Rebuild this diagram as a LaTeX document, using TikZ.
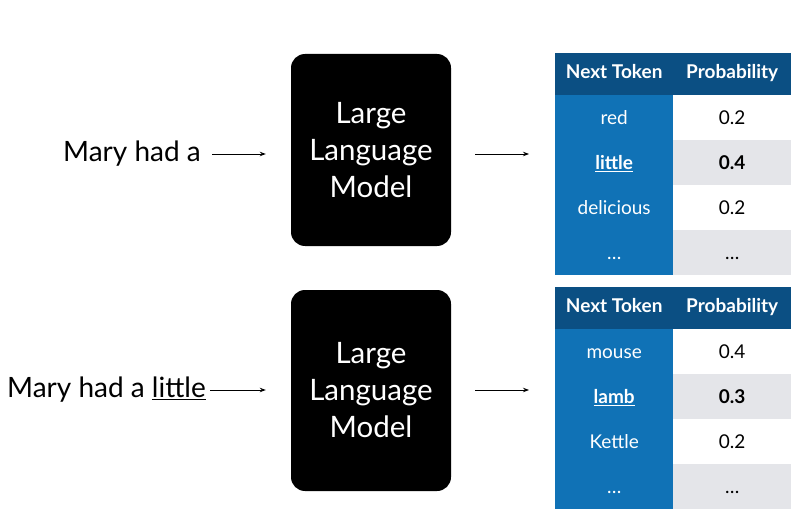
\documentclass[tikz,border=0pt]{standalone}
\usepackage{fontspec}
\setmainfont{Lato}
\usetikzlibrary{positioning,arrows.meta}

\begin{document}
\begin{tikzpicture}[x=1pt,y=-1pt]
\definecolor{tdark}{HTML}{0B4F83}
\definecolor{tblue}{HTML}{1072B6}
\definecolor{tgray}{HTML}{E4E5E9}
\tikzset{
  prompt/.style={font=\fontsize{28}{32}\selectfont, inner sep=0pt},
  llm/.style={fill=black, rounded corners=14pt, minimum width=160pt, text=white,
    align=center, font=\fontsize{29.5}{37}\selectfont},
  head/.style={fill=tdark, text=white, font=\bfseries\fontsize{19}{21}\selectfont,
    minimum width=118pt, minimum height=42pt, inner sep=0pt, anchor=north west,
    text height=13pt, text depth=4pt},
  cell/.style={font=\fontsize{19}{21}\selectfont, minimum width=118pt,
    minimum height=45pt, inner sep=0pt, anchor=north west,
    text height=16pt, text depth=2pt},
  arr/.style={-{Stealth[length=6pt,width=4.5pt]}, line width=0.9pt}
}
\useasboundingbox[fill=white] (0,0) rectangle (804,524);

% prompts
\node[prompt, anchor=east] (p1) at (201,154) {Mary had a};
\node[prompt, anchor=east] (p2) at (206,390) {Mary had a \underline{little}};

% the two models
\node[llm, minimum height=192pt] (llm1) at (371,150) {Large\\Language\\Model};
\node[llm, minimum height=201pt] (llm2) at (371,390.5) {Large\\Language\\Model};

% tables
\foreach \t/\top in {1/53, 2/287}
  {
  \node[head] (t\t-h1) at (555,\top) {Next Token};
  \node[head] (t\t-h2) at (673,\top) {Probability};
  }
\foreach \r/\tok/\p/\c in {1/red/0.2/white, 2/\underline{\textbf{little}}/\textbf{0.4}/tgray,
    3/delicious/0.2/white, 4/\dots/\dots/tgray}
  {
  \node[cell, fill=tblue, text=white] (t1-tok-\r) at (555,{95+45*(\r-1)}) {\tok};
  \node[cell, fill=\c] (t1-p-\r) at (673,{95+45*(\r-1)}) {\p};
  }
\foreach \r/\tok/\p/\c in {1/mouse/0.4/white, 2/\underline{\textbf{lamb}}/\textbf{0.3}/tgray,
    3/Kettle/0.2/white, 4/\dots/\dots/tgray}
  {
  \node[cell, fill=tblue, text=white] (t2-tok-\r) at (555,{329+45*(\r-1)}) {\tok};
  \node[cell, fill=\c] (t2-p-\r) at (673,{329+45*(\r-1)}) {\p};
  }

% arrows
\draw[arr, shorten <=11pt, shorten >=25pt] (p1.east) -- (p1.east -| llm1.west);
\draw[arr, shorten <=24pt, shorten >=26pt] (llm1.east |- p1.east) -- (p1.east -| t1-tok-1.west);
\draw[arr, shorten <=4pt, shorten >=25pt] (p2.east) -- (p2.east -| llm2.west);
\draw[arr, shorten <=24pt, shorten >=26pt] (llm2.east |- p2.east) -- (p2.east -| t2-tok-1.west);
\end{tikzpicture}
\end{document}
